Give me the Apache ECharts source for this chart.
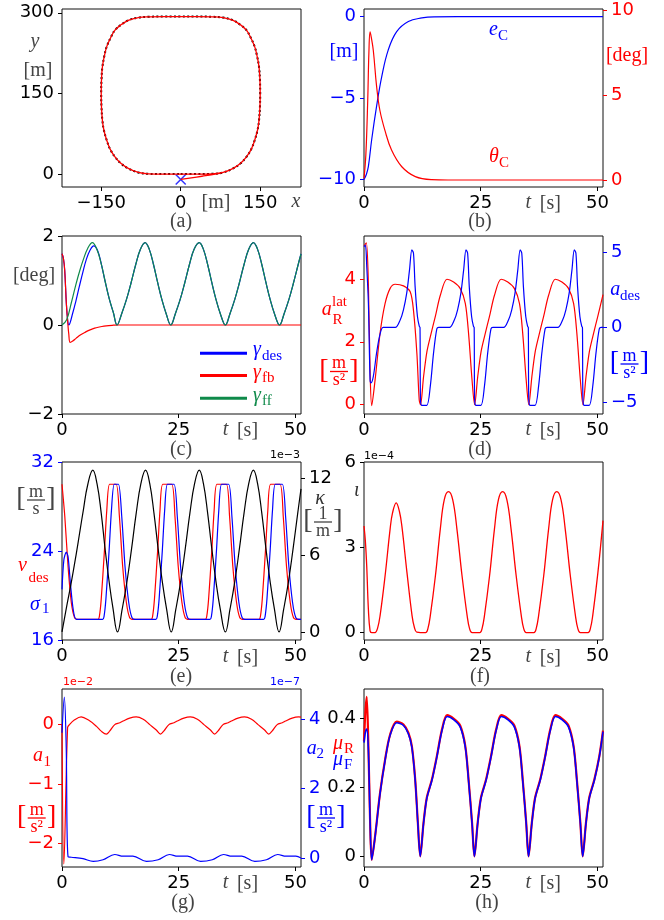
<!DOCTYPE html>
<html>
<head>
<meta charset="utf-8">
<script src="https://cdn.jsdelivr.net/npm/echarts@6/dist/echarts.min.js"></script>
<style>
html, body { margin: 0; padding: 0; background: #fff; }
#chart { width: 664px; height: 920px; }
</style>
</head>
<body>
<div id="chart"></div>
<script>
// (a) trajectory [x, y] in m
const pathRef = [[0,0],[30,0],[60,0.5],[80,3],[99,10.6],[113,20],[124,32],[133,46],[139.6,63],[145,82],[147.8,100],[149.5,125],[150,150],[149.5,175],[147.8,199],[144,220],[139.6,237],[132,254],[124,267.7],[112,278],[99,286],[80,291],[61,292.5],[30,293],[0,293],[-30,293],[-61,292.5],[-80,291],[-99,286],[-112,278],[-124,267.7],[-132,254],[-139.6,237],[-144,220],[-147.8,199],[-149.5,175],[-150,150],[-149.5,125],[-147.8,100],[-145,82],[-139.6,63],[-133,46],[-124,32],[-113,20],[-99,10.6],[-80,3],[-61,0.5],[-30,0],[0,0]];
const pathCar = [[0,-10],[20,-7],[40,-4],[60,-1],[80,3],[99,10.6],[113,20],[124,32],[133,46],[139.6,63],[145,82],[147.8,100],[149.5,125],[150,150],[149.5,175],[147.8,199],[144,220],[139.6,237],[132,254],[124,267.7],[112,278],[99,286],[80,291],[61,292.5],[30,293],[0,293],[-30,293],[-61,292.5],[-80,291],[-99,286],[-112,278],[-124,267.7],[-132,254],[-139.6,237],[-144,220],[-147.8,199],[-149.5,175],[-150,150],[-149.5,125],[-147.8,100],[-145,82],[-139.6,63],[-133,46],[-124,32],[-113,20],[-99,10.6],[-80,3],[-61,0.5],[-30,0],[0,0],[30,0],[60,0.5],[80,3],[99,10.6]];
const carStart = [[0,-10]];

// (b) [t, value]
const eC = [[0,-10],[0.5,-9.7],[0.94,-9.2],[1.65,-7.55],[2.7,-5.5],[3.8,-3.68],[5.2,-2.04],[7.0,-0.92],[9.5,-0.3],[12.4,-0.08],[15,-0.01],[20,0],[51.2,0]];
const thetaC = [[0,0.1],[0.4,1.5],[0.8,4.7],[1.05,7.5],[1.3,8.7],[1.55,8.4],[2.0,7.6],[2.7,5.5],[3.4,4.1],[4.5,2.9],[5.9,1.76],[8.1,0.78],[11,0.2],[14.5,0.02],[18,0],[51.2,0]];

// (c) [t, deg]
const gammaFF = [[0,0],[1,0.12],[2,0.5],[3,0.92],[3.8,1.22],[4.6,1.48],[5.5,1.72],[6.5,1.85],[7.4,1.72],[8.3,1.42],[9.2,1.0],[10.1,0.6],[11.0,0.28],[11.8,0],[12.8,0.26],[13.8,0.57],[14.8,0.95],[15.8,1.36],[16.8,1.7],[17.8,1.85],[18.7,1.7],[19.6,1.36],[20.5,0.95],[21.4,0.57],[22.3,0.26],[23.3,0],[24.3,0.26],[25.3,0.57],[26.3,0.95],[27.3,1.36],[28.3,1.7],[29.4,1.85],[30.3,1.7],[31.2,1.36],[32.1,0.95],[33.0,0.57],[33.9,0.26],[35.0,0],[36.0,0.26],[37.0,0.57],[38.0,0.95],[39.0,1.36],[40.0,1.7],[41.0,1.85],[41.9,1.7],[42.8,1.36],[43.7,0.95],[44.6,0.57],[45.5,0.26],[46.6,0],[47.6,0.26],[48.6,0.57],[49.6,0.95],[50.6,1.36],[51.2,1.6]];
const gammaDes = [[0,1.6],[0.3,1.5],[0.58,1.23],[0.93,0.49],[1.2,0.12],[1.45,0],[2.3,0.27],[3.0,0.55],[3.7,0.86],[4.5,1.2],[5.2,1.47],[6.0,1.68],[6.8,1.78],[7.6,1.68],[8.4,1.38],[9.2,1.0],[10.1,0.6],[11.0,0.28],[11.8,0],[12.8,0.26],[13.8,0.57],[14.8,0.95],[15.8,1.36],[16.8,1.7],[17.8,1.85],[18.7,1.7],[19.6,1.36],[20.5,0.95],[21.4,0.57],[22.3,0.26],[23.3,0],[24.3,0.26],[25.3,0.57],[26.3,0.95],[27.3,1.36],[28.3,1.7],[29.4,1.85],[30.3,1.7],[31.2,1.36],[32.1,0.95],[33.0,0.57],[33.9,0.26],[35.0,0],[36.0,0.26],[37.0,0.57],[38.0,0.95],[39.0,1.36],[40.0,1.7],[41.0,1.85],[41.9,1.7],[42.8,1.36],[43.7,0.95],[44.6,0.57],[45.5,0.26],[46.6,0],[47.6,0.26],[48.6,0.57],[49.6,0.95],[50.6,1.36],[51.2,1.6]];
const gammaFB = [[0,1.6],[0.3,1.5],[0.58,1.23],[0.93,0.49],[1.2,0.1],[1.45,-0.2],[1.75,-0.39],[2.3,-0.36],[3,-0.3],[4,-0.22],[5,-0.16],[6,-0.11],[7,-0.07],[8,-0.045],[9,-0.025],[10,-0.012],[11,-0.005],[12,0],[51.2,0]];

// (d) a_R^lat (left) and a_des (right), m/s^2
const aLat = [[0,5.05],[0.5,5.15],[0.95,3.75],[1.3,1.1],[1.65,-0.03],[2.37,0.78],[3.44,2.27],[4.52,3.22],[5.6,3.7],[6.67,3.83],[8.46,3.78],[9.9,3.59],[10.6,3.0],[11.33,1.63],[11.83,0.15],[12.1,0],[12.76,0.89],[13.47,1.68],[14.2,2.16],[15.27,2.8],[16.35,3.48],[17.78,3.99],[19.2,3.9],[20.6,3.7],[21.7,3.22],[22.4,2.27],[23.15,0.78],[23.7,0],[24.36,0.89],[25.07,1.68],[25.8,2.16],[26.87,2.8],[27.95,3.48],[29.38,3.99],[30.8,3.9],[32.2,3.7],[33.3,3.22],[34.0,2.27],[34.75,0.78],[35.3,0],[35.96,0.89],[36.67,1.68],[37.4,2.16],[38.47,2.8],[39.55,3.48],[40.98,3.99],[42.4,3.9],[43.8,3.7],[44.9,3.22],[45.6,2.27],[46.35,0.78],[46.9,0],[47.56,0.89],[48.27,1.68],[49.0,2.16],[50.07,2.8],[51.2,3.5]];
const aDes = [[0,5.4],[0.3,5.5],[0.6,4.0],[0.94,1.63],[1.3,-3.49],[1.5,-3.7],[2.0,-3.27],[2.7,-1.7],[3.4,-0.5],[4.1,0],[6.7,0],[7.75,0.5],[8.45,1.18],[9.15,2.29],[9.75,3.85],[10.25,5.18],[10.6,4.96],[10.95,2.73],[11.45,0.73],[11.85,0.07],[12.0,0],[12.1,-4.82],[12.4,-5.2],[13.45,-5.2],[14.2,-3.93],[14.9,-1.7],[15.6,-0.1],[16.0,0],[18.3,0],[19.35,0.5],[20.05,1.18],[20.75,2.29],[21.35,3.85],[21.85,5.18],[22.2,4.96],[22.55,2.73],[23.05,0.73],[23.45,0.07],[23.6,0],[23.7,-4.82],[24.0,-5.2],[25.05,-5.2],[25.8,-3.93],[26.5,-1.7],[27.2,-0.1],[27.6,0],[29.9,0],[30.95,0.5],[31.65,1.18],[32.35,2.29],[32.95,3.85],[33.45,5.18],[33.8,4.96],[34.15,2.73],[34.65,0.73],[35.05,0.07],[35.2,0],[35.3,-4.82],[35.6,-5.2],[36.65,-5.2],[37.4,-3.93],[38.1,-1.7],[38.8,-0.1],[39.2,0],[41.5,0],[42.55,0.5],[43.25,1.18],[43.95,2.29],[44.55,3.85],[45.05,5.18],[45.4,4.96],[45.75,2.73],[46.25,0.73],[46.65,0.07],[46.8,0],[46.9,-4.82],[47.2,-5.2],[48.25,-5.2],[49.0,-3.93],[49.7,-1.7],[50.4,-0.1],[50.8,0],[51.2,0]];

// (e) v_des, sigma_1 (m/s) and kappa (1e-3 1/m)
const vDes = [[0,30],[0.6,27.1],[1.3,22.6],[2.0,19.35],[2.7,18.0],[3.4,17.85],[7.7,17.85],[8.0,18.1],[8.4,19.65],[9.1,24.1],[9.6,27.7],[10.2,30],[11.6,30],[12.3,27.1],[13.0,22.6],[13.8,19.35],[14.5,18.0],[15.2,17.85],[19.1,17.85],[19.4,18.1],[19.8,19.65],[20.5,24.1],[21.0,27.7],[21.6,30],[23.5,30],[24.2,27.1],[24.9,22.6],[25.7,19.35],[26.4,18.0],[27.1,17.85],[30.7,17.85],[31.0,18.1],[31.4,19.65],[32.1,24.1],[32.6,27.7],[33.2,30],[35.2,30],[35.9,27.1],[36.6,22.6],[37.4,19.35],[38.1,18.0],[38.8,17.85],[42.2,17.85],[42.5,18.1],[42.9,19.65],[43.6,24.1],[44.1,27.7],[44.7,30],[46.7,30],[47.4,27.1],[48.1,22.6],[48.9,19.35],[49.6,18.0],[50.3,17.85],[51.2,17.85]];
const sigma1 = [[0,20.55],[0.4,23.2],[0.9,23.9],[1.3,23.5],[1.8,21.1],[2.4,18.75],[3.1,17.85],[8.7,17.85],[9.0,18.1],[9.4,19.65],[10.1,24.1],[10.6,27.7],[11.2,30],[12.1,30],[12.8,27.1],[13.5,22.6],[14.3,19.35],[15.0,18.0],[15.7,17.85],[20.1,17.85],[20.4,18.1],[20.8,19.65],[21.5,24.1],[22.0,27.7],[22.6,30],[24.0,30],[24.7,27.1],[25.4,22.6],[26.2,19.35],[26.9,18.0],[27.6,17.85],[31.7,17.85],[32.0,18.1],[32.4,19.65],[33.1,24.1],[33.6,27.7],[34.2,30],[35.7,30],[36.4,27.1],[37.1,22.6],[37.9,19.35],[38.6,18.0],[39.3,17.85],[43.2,17.85],[43.5,18.1],[43.9,19.65],[44.6,24.1],[45.1,27.7],[45.7,30],[47.2,30],[47.9,27.1],[48.6,22.6],[49.4,19.35],[50.1,18.0],[50.8,17.85],[51.2,17.85]];
const kappa = [[0,0],[1,2.0],[2,3.9],[3,6.0],[3.8,7.8],[4.6,9.6],[5.5,11.5],[6.6,12.66],[7.5,11.6],[8.4,9.3],[9.2,6.6],[10.0,4.2],[10.9,1.9],[11.9,0],[12.9,1.8],[13.9,3.9],[14.9,6.5],[15.9,9.3],[16.9,11.6],[17.9,12.66],[18.8,11.6],[19.7,9.3],[20.6,6.5],[21.5,3.9],[22.4,1.8],[23.4,0],[24.4,1.8],[25.4,3.9],[26.4,6.5],[27.4,9.3],[28.4,11.6],[29.4,12.66],[30.3,11.6],[31.2,9.3],[32.1,6.5],[33.0,3.9],[33.9,1.8],[35.0,0],[36.0,1.8],[37.0,3.9],[38.0,6.5],[39.0,9.3],[40.0,11.6],[41.0,12.66],[41.9,11.6],[42.8,9.3],[43.7,6.5],[44.6,3.9],[45.5,1.8],[46.5,0],[47.5,1.8],[48.5,3.9],[49.5,6.5],[50.5,9.3],[51.2,11.2]];

// (f) iota (1e-4)
const iota = [[0,3.75],[0.3,3.2],[0.58,2.35],[0.94,0.82],[1.3,0.06],[1.65,0],[2.37,0],[2.9,0.15],[3.44,0.59],[4.52,2.0],[5.6,3.65],[6.1,4.2],[6.9,4.56],[7.6,4.25],[8.1,3.76],[9.2,2.12],[10.3,0.59],[10.8,0.18],[11.3,0.02],[13.2,0],[13.7,0.15],[14.2,0.59],[15.3,2.0],[16.35,3.65],[17.2,4.68],[18.1,4.96],[19.0,4.68],[19.9,3.65],[21.0,2.0],[22.1,0.59],[22.6,0.15],[23.15,0],[24.8,0],[25.3,0.15],[25.8,0.59],[26.9,2.0],[27.95,3.65],[28.8,4.68],[29.7,4.96],[30.6,4.68],[31.5,3.65],[32.6,2.0],[33.7,0.59],[34.2,0.15],[34.75,0],[36.4,0],[36.9,0.15],[37.4,0.59],[38.5,2.0],[39.55,3.65],[40.4,4.68],[41.3,4.96],[42.2,4.68],[43.1,3.65],[44.2,2.0],[45.3,0.59],[45.8,0.15],[46.35,0],[48.0,0],[48.5,0.15],[49.0,0.6],[50.1,2.1],[51.2,3.94]];

// (g) a1 (1e-2) and a2 (1e-7)
const a1 = [[0,0],[0.4,-2.35],[1.2,-0.05],[1.6,0],[2.7,0.08],[4.1,0.13],[5.6,0.08],[7.4,-0.03],[8.4,-0.11],[9.5,-0.16],[10.2,-0.11],[11.3,0],[12.4,0.03],[13.1,0.06],[14.5,0.11],[15.9,0.13],[17.4,0.09],[18.8,0],[20.2,-0.09],[21.1,-0.16],[21.8,-0.11],[22.9,0],[24.0,0.03],[24.7,0.06],[26.1,0.11],[27.5,0.13],[29.0,0.09],[30.4,0],[31.8,-0.09],[32.7,-0.16],[33.4,-0.11],[34.5,0],[35.6,0.03],[36.3,0.06],[37.7,0.11],[39.1,0.13],[40.6,0.09],[42.0,0],[43.4,-0.09],[44.3,-0.16],[45.0,-0.11],[46.1,0],[47.2,0.03],[47.9,0.06],[49.3,0.11],[50.7,0.13],[51.2,0.125]];
const a2 = [[0,3.6],[0.5,4.63],[0.9,3.2],[1.3,0.03],[2.0,0.02],[4.5,-0.02],[6.7,-0.1],[8.8,-0.05],[11.3,0.1],[13.1,0.05],[15.2,0.05],[18.1,-0.1],[20.6,-0.05],[23.0,0.1],[24.8,0.05],[26.9,0.05],[29.7,-0.1],[32.2,-0.05],[34.6,0.1],[36.4,0.05],[38.5,0.05],[41.3,-0.1],[43.8,-0.05],[46.2,0.1],[48.0,0.05],[50.1,0.05],[51.2,0.0]];

// (h) mu_R, mu_F
const muR = [[0,0.334],[0.3,0.42],[0.58,0.463],[0.94,0.32],[1.3,0.107],[1.65,-0.01],[2.37,0.058],[3.44,0.184],[4.52,0.281],[5.6,0.354],[7.0,0.391],[8.46,0.383],[9.5,0.359],[10.25,0.32],[10.97,0.223],[11.54,0.097],[12.05,0],[12.75,0.097],[13.45,0.17],[14.55,0.223],[15.6,0.29],[16.7,0.368],[17.8,0.41],[19.2,0.4],[20.6,0.38],[21.7,0.32],[22.4,0.223],[23.15,0.097],[23.65,0],[24.35,0.097],[25.05,0.17],[26.15,0.223],[27.2,0.29],[28.3,0.368],[29.4,0.41],[30.8,0.4],[32.2,0.38],[33.3,0.32],[34.0,0.223],[34.75,0.097],[35.25,0],[35.95,0.097],[36.65,0.17],[37.75,0.223],[38.8,0.29],[39.9,0.368],[41.0,0.41],[42.4,0.4],[43.8,0.38],[44.9,0.32],[45.6,0.223],[46.35,0.097],[46.85,0],[47.55,0.097],[48.25,0.17],[49.35,0.223],[50.4,0.29],[51.2,0.365]];
const muF = [[0,0.33],[0.3,0.36],[0.58,0.37],[0.94,0.31],[1.3,0.105],[1.65,-0.01],[2.37,0.056],[3.44,0.182],[4.52,0.279],[5.6,0.352],[7.0,0.388],[8.46,0.38],[9.5,0.356],[10.25,0.317],[10.97,0.22],[11.54,0.095],[12.05,0],[12.75,0.095],[13.45,0.168],[14.55,0.221],[15.6,0.288],[16.7,0.365],[17.8,0.406],[19.2,0.397],[20.6,0.376],[21.7,0.317],[22.4,0.22],[23.15,0.095],[23.65,0],[24.35,0.095],[25.05,0.168],[26.15,0.221],[27.2,0.288],[28.3,0.365],[29.4,0.406],[30.8,0.397],[32.2,0.376],[33.3,0.317],[34.0,0.22],[34.75,0.095],[35.25,0],[35.95,0.095],[36.65,0.168],[37.75,0.221],[38.8,0.288],[39.9,0.365],[41.0,0.406],[42.4,0.397],[43.8,0.376],[44.9,0.317],[45.6,0.22],[46.35,0.095],[46.85,0],[47.55,0.095],[48.25,0.168],[49.35,0.221],[50.4,0.288],[51.2,0.362]];

const tTicks = [0, 25, 50];

const RED = '#ff0000', BLUE = '#0000ff', GREEN = '#0f8a4a', BLACK = '#000000', GRAY = '#444444';
const SANS = '"DejaVu Sans", sans-serif';
const SERIF = '"Liberation Serif", "DejaVu Serif", serif';

const chart = echarts.init(document.getElementById('chart'));

const fmt = v => String(v).replace('-', '\u2212');

const box = (left, top) => ({
    left, top, width: 239, height: 178,
    show: true, borderColor: '#111', borderWidth: 1, backgroundColor: 'transparent'
});

const grids = [box(62, 9), box(364, 9), box(62, 236), box(364, 236),
    box(62, 462), box(364, 462), box(62, 689), box(364, 689)];

function xAx(gi, min, max, ticks) {
    return {
        type: 'value', gridIndex: gi, min, max, position: 'bottom',
        axisLine: { show: false, onZero: false },
        axisTick: { show: true, length: 4, customValues: ticks, lineStyle: { color: BLACK } },
        axisLabel: { customValues: ticks, formatter: fmt, color: BLACK, fontFamily: SANS, fontSize: 18, margin: 7 },
        splitLine: { show: false }
    };
}

function yAx(gi, min, max, ticks, color, pos) {
    return {
        type: 'value', gridIndex: gi, min, max, position: pos || 'left',
        axisLine: { show: false, onZero: false },
        axisTick: { show: true, length: 4, customValues: ticks, lineStyle: { color } },
        axisLabel: { customValues: ticks, formatter: fmt, color, fontFamily: SANS, fontSize: 18, margin: 8 },
        splitLine: { show: false }
    };
}

function line(xi, yi, data, color, width, smooth, extra) {
    return Object.assign({
        type: 'line', xAxisIndex: xi, yAxisIndex: yi, data,
        showSymbol: false, symbol: 'none', smooth: smooth,
        lineStyle: { color, width }, itemStyle: { color },
        silent: true, clip: true
    }, extra || {});
}

// text helpers for the math labels
function T(x, y, s, o) {
    o = o || {};
    const a = o.a || 'center';
    return {
        type: 'text', x, y, z: 100, silent: true,
        style: {
            text: s, fill: o.c || GRAY, fontSize: o.s || 20, fontFamily: o.f || SERIF,
            fontStyle: o.i ? 'italic' : 'normal',
            align: a, verticalAlign: 'middle', textAlign: a, textVerticalAlign: 'middle'
        }
    };
}

function frac(cx, cy, num, den, c) {
    return {
        type: 'group', x: cx, y: cy, z: 100, children: [
            T(-15, -1, '[', { c, s: 28 }),
            T(15, -1, ']', { c, s: 28 }),
            T(0, -8, num, { c, s: 18 }),
            T(0, 9, den, { c, s: 18 }),
            { type: 'line', z: 100, shape: { x1: -9, y1: 0, x2: 9, y2: 0 }, style: { stroke: c, lineWidth: 1.3 } }
        ]
    };
}

function tLabel(cx, cy) {
    return [T(cx - 15, cy - 1, 't', { i: 1 }), T(cx + 7, cy, '[s]')];
}

function legLine(y, c) {
    return { type: 'line', z: 100, shape: { x1: 200, y1: y, x2: 247, y2: y }, style: { stroke: c, lineWidth: 3 } };
}

const graphics = [
    // (a)
    T(35, 42, 'y', { i: 1 }), T(38, 71, '[m]'),
    T(216, 203, '[m]'), T(296, 202, 'x', { i: 1 }), T(181, 222, '(a)'),
    // (b)
    T(344, 52, '[m]', { c: BLUE }), T(627, 56, '[deg]', { c: RED }),
    T(489, 30, 'e', { c: BLUE, i: 1, a: 'left' }), T(498, 36, 'C', { c: BLUE, s: 15, a: 'left' }),
    T(489, 157, 'θ', { c: RED, i: 1, a: 'left' }), T(499, 163, 'C', { c: RED, s: 15, a: 'left' }),
    ...tLabel(543.3, 204), T(480, 222, '(b)'),
    // (c)
    T(34, 276, '[deg]'),
    legLine(353.3, BLUE), legLine(375.5, RED), legLine(398.3, GREEN),
    T(253, 350, 'γ', { c: BLUE, i: 1, a: 'left' }), T(262, 356, 'des', { c: BLUE, s: 15, a: 'left' }),
    T(253, 372.5, 'γ', { c: RED, i: 1, a: 'left' }), T(262, 378.5, 'fb', { c: RED, s: 15, a: 'left' }),
    T(253, 395.5, 'γ', { c: GREEN, i: 1, a: 'left' }), T(262, 401.5, 'ff', { c: GREEN, s: 15, a: 'left' }),
    ...tLabel(240.5, 431), T(181, 450, '(c)'),
    // (d)
    T(321.7, 310, 'a', { c: RED, i: 1, a: 'left' }), T(332, 302.5, 'lat', { c: RED, s: 15, a: 'left' }),
    T(332.5, 320, 'R', { c: RED, s: 15, a: 'left' }),
    frac(339, 371.5, 'm', 's²', RED),
    T(610.3, 289.5, 'a', { c: BLUE, i: 1, a: 'left' }), T(620, 296, 'des', { c: BLUE, s: 15, a: 'left' }),
    frac(629.5, 364, 'm', 's²', BLUE),
    ...tLabel(543.3, 431), T(480, 450, '(d)'),
    // (e)
    frac(36, 500, 'm', 's', GRAY),
    T(18, 566, 'v', { c: RED, i: 1, a: 'left' }), T(28.5, 578, 'des', { c: RED, s: 15, a: 'left' }),
    T(30, 604.5, 'σ', { c: BLUE, i: 1, a: 'left' }), T(42, 609, '1', { c: BLUE, s: 15, a: 'left' }),
    T(300, 455.5, '1e\u22123', { c: BLACK, s: 11, f: SANS, a: 'right' }),
    T(320, 499, 'κ', { c: '#333', i: 1 }),
    frac(323, 522, '1', 'm', GRAY),
    ...tLabel(240.5, 658), T(181, 677, '(e)'),
    // (f)
    T(364, 456, '1e\u22124', { c: BLACK, s: 11, f: SANS, a: 'left' }),
    T(356.7, 491, 'ι', { c: '#333', i: 1 }),
    ...tLabel(543.3, 658), T(480, 677, '(f)'),
    // (g)
    T(63, 682, '1e\u22122', { c: RED, s: 11, f: SANS, a: 'left' }),
    T(300, 682, '1e\u22127', { c: BLUE, s: 11, f: SANS, a: 'right' }),
    T(33, 756, 'a', { c: RED, i: 1, a: 'left' }), T(43.5, 762, '1', { c: RED, s: 15, a: 'left' }),
    frac(36.7, 818, 'm', 's²', RED),
    T(306.7, 749, 'a', { c: BLUE, i: 1, a: 'left' }), T(316.5, 754, '2', { c: BLUE, s: 15, a: 'left' }),
    frac(326, 818, 'm', 's²', BLUE),
    ...tLabel(240.5, 884), T(183, 903, '(g)'),
    // (h)
    T(333, 744, 'μ', { c: RED, i: 1, a: 'left' }), T(344, 749, 'R', { c: RED, s: 15, a: 'left' }),
    T(333, 760, 'μ', { c: BLUE, i: 1, a: 'left' }), T(344, 765, 'F', { c: BLUE, s: 15, a: 'left' }),
    ...tLabel(543.3, 884), T(487, 903, '(h)')
];

const option = {
    animation: false,
    backgroundColor: '#ffffff',
    grid: grids,
    xAxis: [
        xAx(0, -224, 227, [-150, 0, 150]),
        xAx(1, 0, 51.2, tTicks),
        xAx(2, 0, 51.2, tTicks),
        xAx(3, 0, 51.2, tTicks),
        xAx(4, 0, 51.2, tTicks),
        xAx(5, 0, 51.2, tTicks),
        xAx(6, 0, 51.2, tTicks),
        xAx(7, 0, 51.2, tTicks)
    ],
    yAxis: [
        yAx(0, -24, 307, [0, 150, 300], BLACK),            // 0 (a)
        yAx(1, -10.47, 0.47, [-10, -5, 0], BLUE),          // 1 (b) left
        yAx(1, -0.41, 10.05, [0, 5, 10], RED, 'right'),    // 2 (b) right
        yAx(2, -2, 2, [-2, 0, 2], BLACK),                  // 3 (c)
        yAx(3, -0.295, 5.365, [0, 2, 4], RED),             // 4 (d) left
        yAx(3, -5.78, 6.11, [-5, 0, 5], BLUE, 'right'),    // 5 (d) right
        yAx(4, 16, 32, [16, 24, 32], BLUE),                // 6 (e) left
        yAx(4, -0.63, 13.3, [0, 6, 12], BLACK, 'right'),   // 7 (e) right
        yAx(5, -0.26, 6, [0, 3, 6], BLACK),                // 8 (f)
        yAx(6, -2.4, 0.6, [-2, -1, 0], RED),               // 9 (g) left
        yAx(6, -0.26, 4.86, [0, 2, 4], BLUE, 'right'),     // 10 (g) right
        yAx(7, -0.031, 0.486, [0, 0.2, 0.4], BLACK)        // 11 (h)
    ],
    series: [
        line(0, 0, pathRef, BLACK, 2, 0.4, { lineStyle: { color: BLACK, width: 2, type: [2, 2.4] } }),
        line(0, 0, pathCar, RED, 1.3, 0.4),
        {
            type: 'scatter', xAxisIndex: 0, yAxisIndex: 0, data: carStart, silent: true,
            symbol: 'path://M0,0L10,10M10,0L0,10', symbolSize: 10,
            itemStyle: { color: 'none', borderColor: BLUE, borderWidth: 1.5 }
        },
        line(1, 1, eC, BLUE, 1.2, 0.4),
        line(1, 2, thetaC, RED, 1.2, 0.4),
        line(2, 3, gammaDes, BLUE, 1.2, 0.4),
        line(2, 3, gammaFB, RED, 1.2, 0.4),
        line(2, 3, gammaFF, GREEN, 1.2, 0.4),
        line(3, 4, aLat, RED, 1.2, 0.3),
        line(3, 5, aDes, BLUE, 1.2, 0.3),
        line(4, 6, vDes, RED, 1.2, 0.25),
        line(4, 6, sigma1, BLUE, 1.2, 0.25),
        line(4, 7, kappa, BLACK, 1.2, 0.45),
        line(5, 8, iota, RED, 1.3, 0.4),
        line(6, 9, a1, RED, 1.2, 0.35),
        line(6, 10, a2, BLUE, 1.2, 0.35),
        line(7, 11, muR, RED, 2.2, 0.3),
        line(7, 11, muF, BLUE, 1.6, 0.3)
    ],
    graphic: graphics
};

chart.setOption(option);
</script>
</body>
</html>
